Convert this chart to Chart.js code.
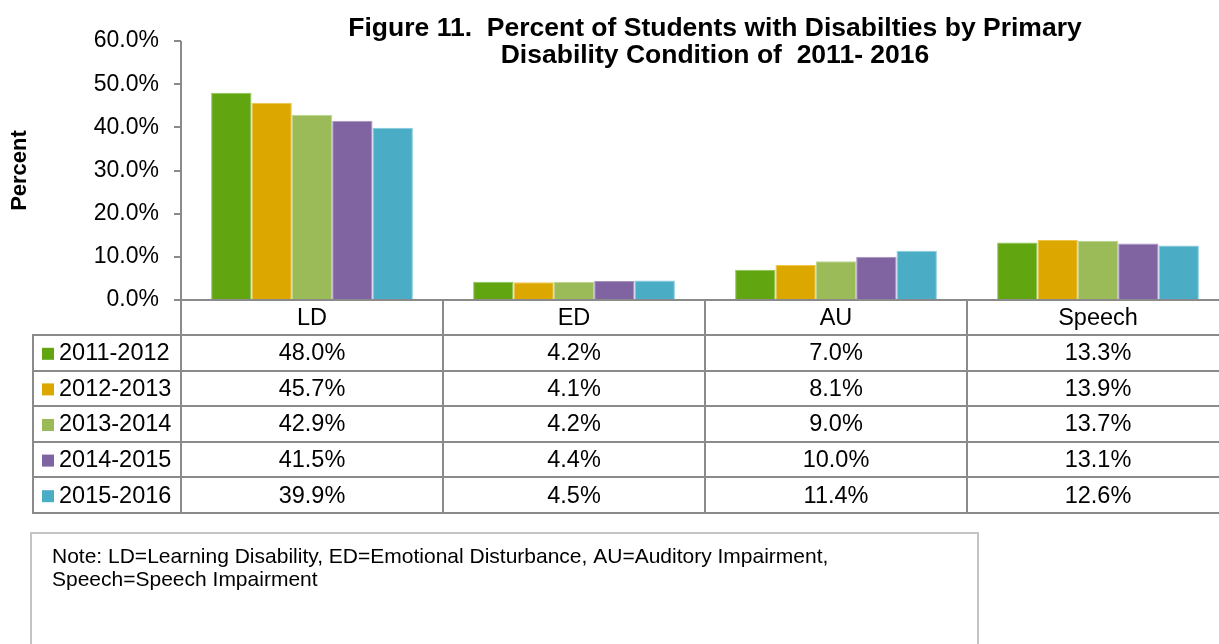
<!DOCTYPE html>
<html>
<head>
<meta charset="utf-8">
<script src="https://cdn.jsdelivr.net/npm/chart.js@4.4.0/dist/chart.umd.min.js"></script>
<style>
  html, body { margin: 0; padding: 0; background: #fff; overflow: hidden; }
  #wrap { width: 1229px; height: 644px; }
</style>
</head>
<body>
<div id="wrap"><canvas id="disChart" width="1229" height="644"></canvas></div>
<script>
// Categorias e valores (percentual por ano letivo)
const categories = ['LD', 'ED', 'AU', 'Speech'];
const years = ['2011-2012', '2012-2013', '2013-2014', '2014-2015', '2015-2016'];
const values2011 = [48.0, 4.2, 7.0, 13.3];
const values2012 = [45.7, 4.1, 8.1, 13.9];
const values2013 = [42.9, 4.2, 9.0, 13.7];
const values2014 = [41.5, 4.4, 10.0, 13.1];
const values2015 = [39.9, 4.5, 11.4, 12.6];
const yTicks = [0, 10, 20, 30, 40, 50, 60];

const seriesValues = [values2011, values2012, values2013, values2014, values2015];
const fillColors = ['#61a510', '#dca800', '#9bbb59', '#8064a2', '#4bacc6'];
const edgeColors = ['#8cc451', '#efc64a', '#bcd48a', '#a893c0', '#86cadb'];

const titleLines = [
  'Figure 11.  Percent of Students with Disabilties by Primary',
  'Disability Condition of  2011- 2016'
];
const noteLines = [
  'Note: LD=Learning Disability, ED=Emotional Disturbance, AU=Auditory Impairment,',
  'Speech=Speech Impairment'
];

const lineGray = '#8a8a8a';
const baseFont = '"Liberation Sans", Arial, sans-serif';

// Tabela de dados abaixo do eixo, título e nota
const tablePlugin = {
  id: 'dataTable',
  afterDraw(chart) {
    const { ctx, chartArea, scales } = chart;
    const x = scales.x;
    const left = chartArea.left;
    const right = chartArea.right;
    const base = chartArea.bottom;
    const step = x.getPixelForValue(1) - x.getPixelForValue(0);
    const headH = 35;
    const rowH = 35.6;
    const legendLeft = 33;
    const bottom = base + headH + rowH * years.length;

    ctx.save();
    ctx.strokeStyle = lineGray;
    ctx.lineWidth = 2;
    ctx.beginPath();
    ctx.moveTo(left, chartArea.top);
    ctx.lineTo(left, bottom);
    categories.forEach((c, i) => {
      const xe = Math.round(x.getPixelForValue(i) + step / 2);
      ctx.moveTo(xe, base);
      ctx.lineTo(xe, bottom);
    });
    ctx.moveTo(legendLeft, base + headH);
    ctx.lineTo(legendLeft, bottom + 1);
    ctx.moveTo(left, base);
    ctx.lineTo(right, base);
    for (let r = 0; r <= years.length; r++) {
      const y = Math.round(base + headH + r * rowH);
      ctx.moveTo(legendLeft - 1, y);
      ctx.lineTo(right, y);
    }
    ctx.stroke();

    // cabeçalho com as categorias
    ctx.fillStyle = '#000';
    ctx.font = '23.5px ' + baseFont;
    ctx.textAlign = 'center';
    ctx.textBaseline = 'middle';
    categories.forEach((c, i) => {
      ctx.fillText(c, x.getPixelForValue(i), base + headH / 2 + 1);
    });

    // linhas com chave de cor e valores
    years.forEach((yr, r) => {
      const cy = base + headH + r * rowH + rowH / 2 + 1;
      ctx.fillStyle = fillColors[r];
      ctx.fillRect(42, cy - 6, 12, 12);
      ctx.fillStyle = '#000';
      ctx.textAlign = 'left';
      ctx.fillText(yr, 59, cy);
      ctx.textAlign = 'center';
      seriesValues[r].forEach((v, i) => {
        ctx.fillText(v.toFixed(1) + '%', x.getPixelForValue(i), cy);
      });
    });

    // título
    ctx.font = 'bold 26.5px ' + baseFont;
    ctx.textAlign = 'center';
    ctx.fillText(titleLines[0], 715, 29);
    ctx.fillText(titleLines[1], 715, 56);

    // caixa de nota
    ctx.strokeStyle = '#c4c4c4';
    ctx.lineWidth = 2;
    ctx.strokeRect(31, 533, 947, 130);
    ctx.font = '21px ' + baseFont;
    ctx.textAlign = 'left';
    ctx.fillText(noteLines[0], 52, 557);
    ctx.fillText(noteLines[1], 52, 580);
    ctx.restore();
  }
};

function initChart() {
  const ctx = document.getElementById('disChart').getContext('2d');
  new Chart(ctx, {
    type: 'bar',
    data: {
      labels: categories,
      datasets: years.map((yr, i) => ({
        label: yr,
        data: seriesValues[i],
        backgroundColor: fillColors[i],
        borderColor: edgeColors[i],
        borderWidth: 1,
        barPercentage: 1.0,
        categoryPercentage: 0.77
      }))
    },
    options: {
      responsive: false,
      animation: false,
      layout: {
        padding: { top: 41, bottom: 344, left: 0, right: 0 }
      },
      plugins: {
        legend: { display: false },
        title: { display: false },
        tooltip: { enabled: false }
      },
      scales: {
        x: {
          display: false
        },
        y: {
          min: 0,
          max: 60,
          afterFit(scale) {
            scale.width = 181;
          },
          afterBuildTicks(scale) {
            scale.ticks = yTicks.map(v => ({ value: v }));
          },
          border: { display: false },
          grid: {
            drawOnChartArea: false,
            drawTicks: true,
            tickLength: 7,
            color: lineGray,
            lineWidth: 2
          },
          ticks: {
            padding: 15,
            color: '#000',
            font: { family: baseFont, size: 23 },
            callback: (v) => v.toFixed(1) + '%'
          },
          title: {
            display: true,
            text: 'Percent',
            color: '#000',
            padding: { top: 7, bottom: 0 },
            font: { family: baseFont, size: 22, weight: 'bold' }
          }
        }
      }
    },
    plugins: [tablePlugin]
  });
}

if (document.readyState === 'loading') {
  document.addEventListener('DOMContentLoaded', initChart);
} else {
  initChart();
}
</script>
</body>
</html>
